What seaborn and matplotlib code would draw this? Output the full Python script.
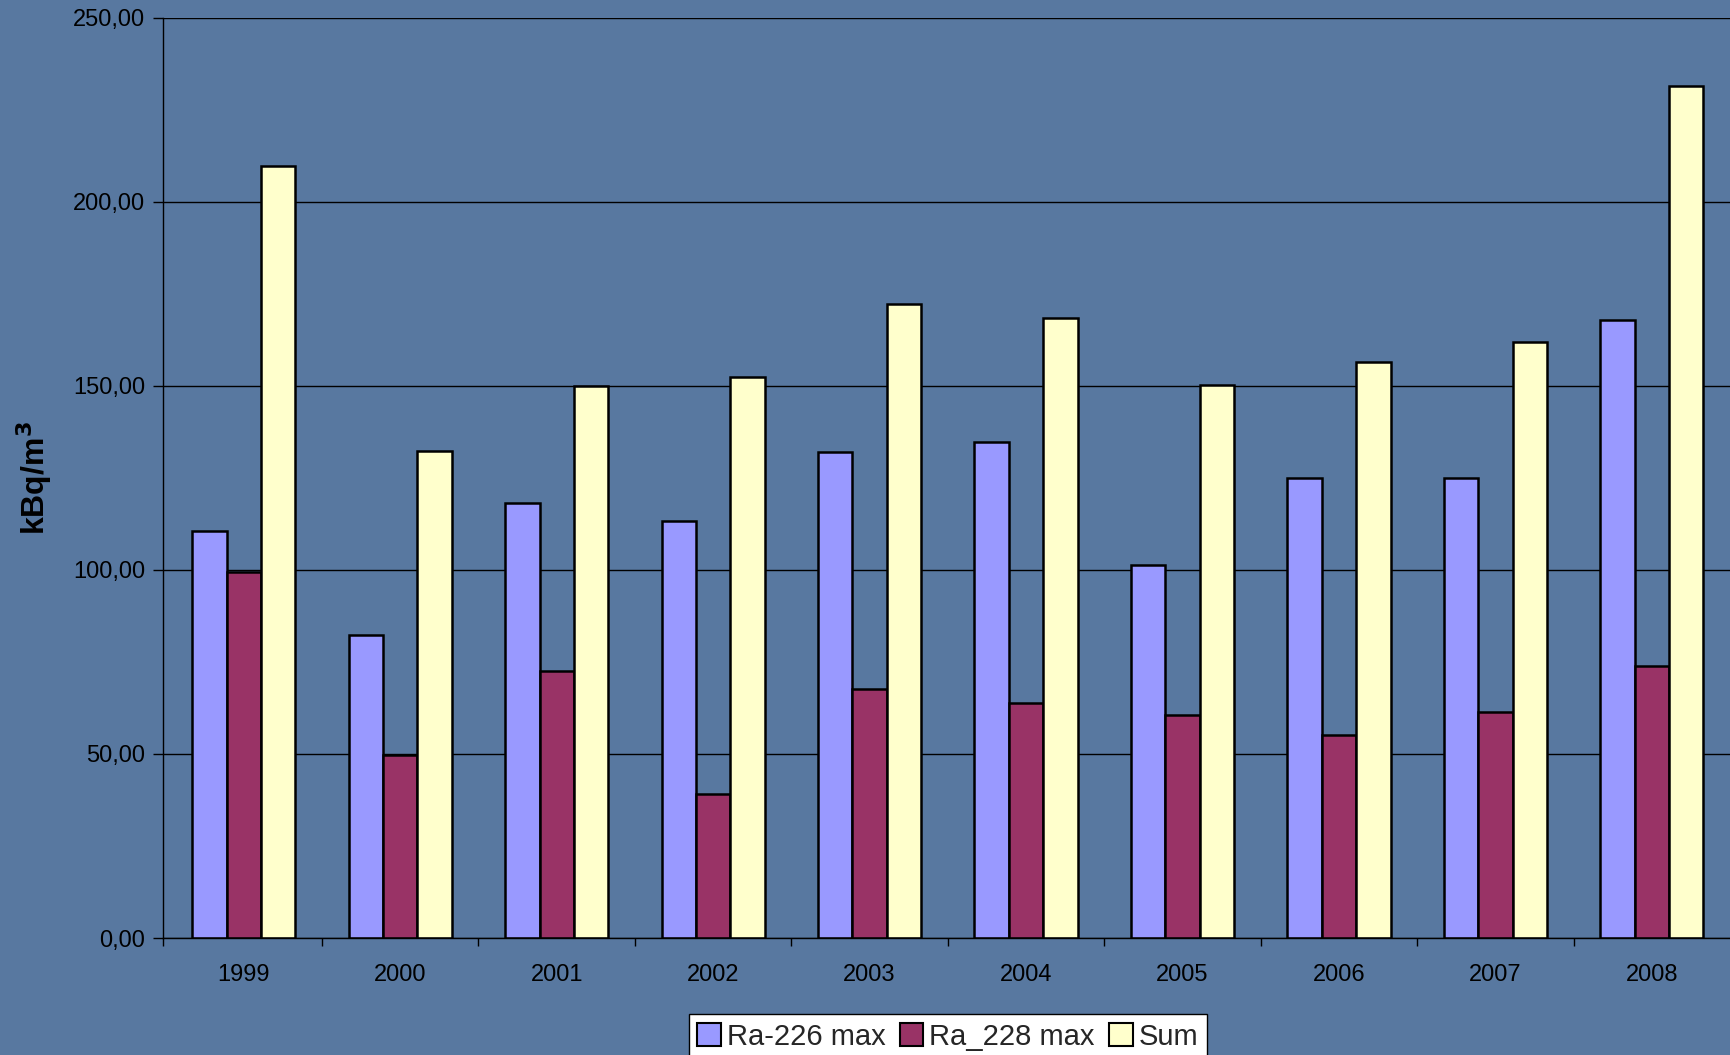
import matplotlib
matplotlib.use("Agg")
import matplotlib.pyplot as plt
import matplotlib.ticker as mticker
from matplotlib.patches import Patch
import seaborn as sns
import pandas as pd

years = ["1999", "2000", "2001", "2002", "2003", "2004", "2005", "2006", "2007", "2008"]
ra226 = [110.6, 82.4, 118.1, 113.3, 131.9, 134.6, 101.3, 125.0, 125.0, 167.9]
ra228 = [99.5, 49.8, 72.5, 39.0, 67.7, 63.8, 60.6, 55.2, 61.5, 74.0]
total = [209.8, 132.2, 149.9, 152.3, 172.1, 168.5, 150.2, 156.5, 161.9, 231.4]
series_names = ["Ra-226 max", "Ra_228 max", "Sum"]
colors = ["#9999ff", "#993366", "#ffffcc"]
y_ticks = [0, 50, 100, 150, 200, 250]

rows = []
for name, vals in zip(series_names, [ra226, ra228, total]):
    for y, v in zip(years, vals):
        rows.append({"year": y, "value": v, "series": name})
df = pd.DataFrame(rows)

sns.set_style("white")
plt.rcParams["font.family"] = ["Liberation Sans", "DejaVu Sans"]

bg = "#5878a0"
fig = plt.figure(figsize=(17.31, 10.55), dpi=100)
fig.patch.set_facecolor(bg)
ax = fig.add_axes([0.0944, 0.1109, 0.9056, 0.8724])
ax.set_facecolor(bg)

sns.barplot(data=df, x="year", y="value", hue="series", hue_order=series_names,
            palette=colors, saturation=1, width=0.66, edgecolor="black",
            linewidth=1.8, ax=ax, legend=False, errorbar=None)

x_left = -0.514
ax.set_ylim(0, 250)
ax.set_xlim(x_left, 9.506)
ax.set_yticks(y_ticks)
ax.yaxis.set_major_formatter(mticker.FuncFormatter(lambda v, p: f"{v:.2f}".replace(".", ",")))
ax.grid(axis="y", color="black", linewidth=1.0)
ax.set_axisbelow(True)
for s in ["top", "right"]:
    ax.spines[s].set_visible(False)
for s in ["left", "bottom"]:
    ax.spines[s].set_color("black")
    ax.spines[s].set_linewidth(1.0)

ax.tick_params(axis="y", direction="out", length=7, width=1, color="black",
               labelsize=17, pad=6, left=True, labelcolor="black")
ax.tick_params(axis="x", which="major", length=0, labelsize=17, pad=19, labelcolor="black")
ax.set_xticks([i + 0.5 for i in range(len(years) - 1)] + [x_left], minor=True)
ax.tick_params(axis="x", which="minor", direction="out", length=6, width=1, color="black", bottom=True)
ax.set_xlabel("")
ax.set_ylabel("kBq/m$^{\\mathbf{3}}$", fontsize=23, fontweight="bold", color="black", labelpad=14)

handles = [Patch(facecolor=c, edgecolor="black", linewidth=1.5) for c in colors]
leg = fig.legend(handles, series_names, loc="upper center", bbox_to_anchor=(0.5475, 0.039),
                 ncol=3, fontsize=21, frameon=True, fancybox=False, edgecolor="black",
                 facecolor="white", framealpha=1, handlelength=0.8, handleheight=0.8,
                 handletextpad=0.2, columnspacing=0.5, borderpad=0.3, borderaxespad=0)
leg.get_frame().set_linewidth(1.0)

fig.savefig("out.png", dpi=100, facecolor=bg)
